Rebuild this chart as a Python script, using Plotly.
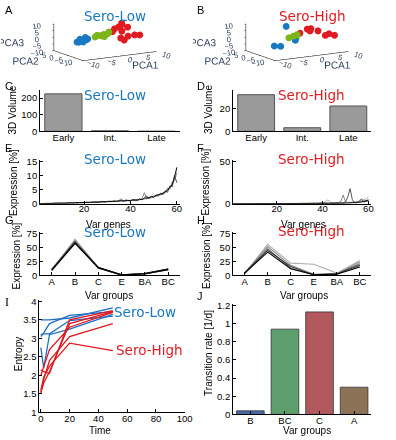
import plotly.graph_objects as go

W, H = 396, 440
FONT = "Liberation Sans, Arial, sans-serif"
TFONT = "DejaVu Sans, Verdana, sans-serif"
BLUE = "#1a78c2"
RED = "#e01b22"
GREEN = "#7cb518"

# ---------------- data ----------------
# Panel A / B : PCA scatter (PCA1, PCA2, PCA3)
A_blue_p1 = [-7.5, -7.0, -6.5, -6.0, -5.5, -5.25, -4.75, -6.2, -7.2, -5.0]
A_blue_p2 = [0.5, -0.5, 1.0, 0.0, -1.0, 0.5, 0.0, -0.5, 0.0, 1.0]
A_blue_p3 = [-0.8, 0.0, 0.8, 0.0, 0.8, 0.0, 0.8, -0.8, -0.8, 1.6]
A_green_p1 = [-2.75, -2.0, -1.5, -0.75, -0.25, 0.5, 1.0, 0.0]
A_green_p2 = [0.0, 0.5, -0.5, 0.0, 0.5, -0.5, 0.0, 0.5]
A_green_p3 = [1.6, 2.4, 2.4, 1.6, 2.4, 3.2, 4.0, 0.8]
A_red_p1 = [2.0, 2.75, 3.5, 4.5, 5.0, 5.75, 4.75, 4.25, 5.0, 6.25, 8.25, 9.25]
A_red_p2 = [0.0, 0.5, -0.5, 0.0, 1.0, -1.0, 0.5, 0.0, -0.5, 0.0, 0.5, -0.5]
A_red_p3 = [4.0, 5.6, 7.2, 9.5, 8.0, 6.4, 3.2, -1.6, -3.2, -0.8, -0.8, -0.8]

B_blue_p1 = [-3.0, -6.25, -4.5, -0.5]
B_blue_p2 = [0.0, 0.0, 0.0, 0.0]
B_blue_p3 = [9.6, -4.0, -4.8, -1.6]
B_green_p1 = [-2.25, -1.0, 0.0, -0.25]
B_green_p2 = [0.0, 0.0, 0.0, 0.0]
B_green_p3 = [0.8, 1.6, 2.4, 0.0]
B_red_p1 = [0.75, 2.75, 3.25, 3.75, 3.5, 4.5, 6.5, 7.5, 9.0]
B_red_p2 = [0.0, 0.0, 0.0, 0.0, 0.0, -3.0, -3.0, -3.0, -3.0]
B_red_p3 = [3.2, 5.6, 4.8, 5.6, 4.0, 4.8, 0.8, 1.6, 0.0]

# Panel C / D : 3D volume
stage_cats = ["Early", "Int.", "Late"]
C_vol = [225, 3, 0.5]
D_vol = [32.5, 3.2, 22.5]

# Panel E / F : expression per variable gene
genes = list(range(1, 61))
E1 = [0.0,0.1,0.0,0.1,0.1,0.2,0.1,0.2,0.3,0.2, 0.2,0.3,0.2,0.4,0.3,0.3,0.4,0.3,0.5,0.4,
      0.5,0.4,0.6,0.5,0.6,0.7,0.6,0.7,0.8,0.7, 0.8,0.9,0.8,1.0,0.9,1.1,1.0,1.2,1.1,1.3,
      1.2,1.4,1.3,1.5,1.7,1.6,1.9,2.1,2.3,2.5, 2.8,3.0,3.4,3.8,4.2,5.0,5.8,7.0,9.0,12.5]
E2 = [0.1,0.0,0.1,0.2,0.1,0.1,0.2,0.3,0.2,0.1, 0.3,0.2,0.3,0.2,0.4,0.5,0.3,0.4,0.4,0.6,
      0.4,0.5,0.5,0.7,0.5,0.6,0.8,0.6,0.7,0.9, 0.7,1.0,0.9,0.8,1.2,1.8,1.1,1.0,1.3,1.1,
      1.5,1.2,1.6,1.4,1.9,4.0,1.7,2.4,2.0,2.9, 2.6,3.3,3.1,4.0,3.8,5.6,5.2,7.8,8.2,11.0]
E3 = [0.0,0.0,0.1,0.0,0.2,0.1,0.1,0.1,0.2,0.3, 0.1,0.2,0.4,0.3,0.2,0.4,0.3,0.5,0.3,0.4,
      0.6,0.5,0.4,0.6,0.7,0.5,0.7,0.9,0.6,0.8, 1.0,0.7,1.1,0.9,1.0,1.3,0.9,1.4,1.2,1.0,
      1.6,1.3,1.1,1.8,1.4,2.2,2.8,1.8,2.7,2.2, 3.2,2.7,3.8,3.2,4.6,4.1,6.4,6.0,10.2,7.5]
E4 = [0.1,0.1,0.1,0.1,0.1,0.2,0.2,0.1,0.2,0.2, 0.2,0.3,0.3,0.3,0.3,0.4,0.4,0.4,0.4,0.5,
      0.5,0.5,0.5,0.6,0.6,0.6,0.7,0.7,0.7,0.8, 0.8,0.8,0.9,0.9,1.0,1.0,1.0,1.1,1.1,1.2,
      1.3,1.3,1.4,1.6,1.5,2.0,2.0,2.2,2.6,2.4, 3.0,3.2,3.5,3.7,4.4,4.8,6.0,6.8,9.5,13.0]
F1 = [0.2,0.1,0.2,0.3,0.2,0.1,0.2,0.3,0.2,0.2, 0.3,0.2,0.1,0.2,0.3,0.2,0.2,0.3,0.2,0.3,
      0.2,0.3,0.4,0.3,0.2,0.3,0.4,0.3,0.4,0.3, 0.4,0.3,0.5,0.4,0.3,0.5,0.4,0.6,0.5,0.7,
      2.5,4.5,3.8,1.0,0.8,0.9,1.2,1.0,1.4,1.2, 1.5,1.8,1.6,2.0,2.4,2.8,3.5,4.2,5.8,8.0]
F2 = [0.0,0.1,0.0,0.1,0.1,0.0,0.1,0.1,0.2,0.1, 0.1,0.2,0.1,0.1,0.2,0.1,0.2,0.2,0.1,0.2,
      0.2,0.1,0.2,0.3,0.2,1.0,0.3,0.2,0.3,0.2, 0.3,0.4,0.3,0.2,0.4,0.3,0.4,0.5,0.4,0.5,
      0.6,0.8,0.6,0.7,0.9,0.8,1.5,3.0,10.5,2.0, 1.2,1.0,1.5,1.3,1.8,2.0,2.5,3.0,3.6,4.5]
F3 = [0.1,0.0,0.1,0.0,0.1,0.1,0.0,0.1,0.0,0.1, 0.0,0.1,0.1,0.0,0.1,0.2,0.1,0.0,0.1,0.1,
      0.2,0.1,0.1,0.2,0.1,0.2,0.1,0.2,0.2,0.1, 0.2,0.2,0.3,0.2,0.2,0.3,0.3,0.2,0.3,0.3,
      0.4,0.3,0.4,0.5,0.4,0.5,0.6,0.5,0.8,2.0, 8.0,18.0,5.0,1.0,1.2,3.0,6.0,2.0,2.5,3.5]
F4 = [0.0,0.0,0.0,0.1,0.0,0.0,0.1,0.0,0.0,0.1, 0.1,0.0,0.1,0.1,0.1,0.0,0.1,0.1,0.1,0.1,
      0.1,0.1,0.2,0.1,0.1,0.2,0.2,0.1,0.2,0.2, 0.2,0.2,0.2,0.3,0.2,0.3,0.3,0.3,0.3,0.4,
      0.4,0.4,0.5,0.5,0.5,0.6,0.6,0.7,0.7,0.8, 0.9,1.0,1.2,1.3,1.5,1.8,2.2,2.8,3.5,4.5]
E_series = [E1, E2, E3, E4]
F_series = [F1, F2, F3, F4]

# Panel G / H : expression per variable group
groups = ["A", "B", "C", "E", "BA", "BC"]
G_series = [
    [9, 65, 14, 1.0, 3.0, 11],
    [10, 63, 14, 0.8, 2.5, 11],
    [11, 61, 13, 1.0, 3.0, 10],
    [10, 60, 14, 0.5, 3.5, 11],
    [9, 58, 14, 1.0, 2.5, 11],
]
H_series = [
    [3, 56, 22, 20, 4, 27],
    [4, 52, 18, 2, 3, 24],
    [3, 48, 13, 1, 2, 21],
    [5, 45, 16, 1, 3, 18],
    [4, 42, 12, 1, 2, 15],
]

# Panel I : entropy over time
times = [0, 2, 6, 20, 50]
I_low = [
    [3.50, 3.50, 3.50, 3.55, 3.82],
    [3.05, 3.15, 3.40, 3.62, 3.72],
    [2.75, 2.20, 3.10, 3.25, 3.65],
    [3.10, 3.12, 3.12, 3.48, 3.60],
]
I_high = [
    [1.50, 1.90, 2.40, 3.05, 3.40],
    [1.55, 1.80, 2.10, 3.40, 3.72],
    [2.00, 2.25, 2.70, 3.30, 3.70],
    [2.15, 2.10, 2.05, 3.50, 3.75],
    [1.60, 1.95, 2.25, 2.87, 2.67],
]

# Panel J : transition rate
J_groups = ["B", "BC", "C", "A"]
J_rate = [0.04, 0.94, 1.13, 0.30]
J_colors = ["#4a6aa8", "#5c9e6c", "#b0585c", "#8c7358"]

# ---------------- helpers ----------------
def xd(a, b):
    return [a / W, b / W]

def yd(top, bottom):
    return [1 - bottom / H, 1 - top / H]

def axstyle(**kw):
    d = dict(showline=True, linecolor="black", linewidth=1, ticks="inside",
             ticklen=3, tickcolor="black", showgrid=False, zeroline=False,
             tickfont=dict(family=FONT, size=9.5, color="black"), fixedrange=True)
    d.update(kw)
    return d

def xstyle(sd=-3, **kw):
    return axstyle(ticklabelstandoff=sd, **kw)

fig = go.Figure()

def add3d(scene, pts, cols):
    for (p1, p2, p3), c in zip(pts, cols):
        fig.add_trace(go.Scatter3d(x=p1, y=p2, z=p3, mode="markers", scene=scene,
                                   marker=dict(size=4, color=c, line=dict(width=0)),
                                   showlegend=False))

add3d("scene", [(A_blue_p1, A_blue_p2, A_blue_p3), (A_green_p1, A_green_p2, A_green_p3),
                (A_red_p1, A_red_p2, A_red_p3)], [BLUE, GREEN, RED])
add3d("scene2", [(B_blue_p1, B_blue_p2, B_blue_p3), (B_green_p1, B_green_p2, B_green_p3),
                 (B_red_p1, B_red_p2, B_red_p3)], [BLUE, GREEN, RED])

def ax3(title, tv):
    return dict(title=dict(text=title, font=dict(family=FONT, size=10)), range=[-10, 10],
                tickvals=tv, showgrid=False, showbackground=False, zeroline=False,
                showline=True, linecolor="black", ticks="outside", ticklen=2,
                tickfont=dict(family=FONT, size=9.5), showspikes=False)

def scene_cfg(dom_x, dom_y):
    return dict(domain=dict(x=dom_x, y=dom_y),
                xaxis=ax3("PCA1", [-10, -5, 0, 5, 10]),
                yaxis=ax3("PCA2", [-10, -5, 0, 5]),
                zaxis=ax3("PCA3", [-10, -5, 0, 5, 10]),
                aspectmode="manual", aspectratio=dict(x=2.19, y=1.45, z=0.7),
                camera=dict(projection=dict(type="orthographic"),
                            eye=dict(x=-1.19, y=-1.58, z=0.28), up=dict(x=0, y=0, z=1),
                            center=dict(x=-0.17, y=0.12, z=-0.14)),
                bgcolor="white")

fig.add_trace(go.Bar(x=stage_cats, y=C_vol, xaxis="x", yaxis="y", width=0.8,
                     marker=dict(color="#9a9a9a", line=dict(color="#555555", width=1)),
                     showlegend=False))
fig.add_trace(go.Bar(x=stage_cats, y=D_vol, xaxis="x2", yaxis="y2", width=0.8,
                     marker=dict(color="#9a9a9a", line=dict(color="#555555", width=1)),
                     showlegend=False))

greys4 = ["#b4b4b4", "#8a8a8a", "#555555", "#111111"]
for s, c in zip(E_series, greys4):
    fig.add_trace(go.Scatter(x=genes, y=s, xaxis="x3", yaxis="y3", mode="lines",
                             line=dict(color=c, width=1), showlegend=False))
for s, c in zip(F_series, greys4):
    fig.add_trace(go.Scatter(x=genes, y=s, xaxis="x4", yaxis="y4", mode="lines",
                             line=dict(color=c, width=1), showlegend=False))

greys5 = ["#b0b0b0", "#8c8c8c", "#666666", "#3a3a3a", "#000000"]
for s, c in zip(G_series, greys5):
    fig.add_trace(go.Scatter(x=groups, y=s, xaxis="x5", yaxis="y5", mode="lines",
                             line=dict(color=c, width=1.3), showlegend=False))
for s, c in zip(H_series, greys5):
    fig.add_trace(go.Scatter(x=groups, y=s, xaxis="x6", yaxis="y6", mode="lines",
                             line=dict(color=c, width=1.1), showlegend=False))

for s in I_low:
    fig.add_trace(go.Scatter(x=times, y=s, xaxis="x7", yaxis="y7", mode="lines",
                             line=dict(color="#1f6fc4", width=1.3), showlegend=False))
for s in I_high:
    fig.add_trace(go.Scatter(x=times, y=s, xaxis="x7", yaxis="y7", mode="lines",
                             line=dict(color="#e0161e", width=1.3), showlegend=False))

fig.add_trace(go.Bar(x=J_groups, y=J_rate, xaxis="x8", yaxis="y8", width=0.8,
                     marker=dict(color=J_colors, line=dict(color="#333333", width=0.8)),
                     showlegend=False))

L1, R1 = 40, 183
L2, R2 = 237.5, 379

layout = dict(
    width=W, height=H, margin=dict(l=0, r=0, t=0, b=0),
    paper_bgcolor="white", plot_bgcolor="white", showlegend=False, bargap=0.2,
    scene=scene_cfg(xd(0, 196), yd(0, 80)),
    scene2=scene_cfg(xd(196, 392), yd(0, 80)),
    xaxis=xstyle(domain=xd(L1, R1), anchor="y", ticks="", range=[-0.5, 2.5]),
    yaxis=axstyle(domain=yd(88, 130), anchor="x", range=[0, 247], tickvals=[0, 100, 200]),
    xaxis2=xstyle(domain=xd(L2, R2), anchor="y2", ticks="", range=[-0.5, 2.5]),
    yaxis2=axstyle(domain=yd(88, 130), anchor="x2", range=[0, 36.5], tickvals=[0, 20]),
    xaxis3=xstyle(sd=-4, domain=xd(L1, R1), anchor="y3", range=[1, 61.3], tickvals=[20, 40, 60]),
    yaxis3=axstyle(domain=yd(159, 204), anchor="x3", range=[0, 15.7], tickvals=[0, 5, 10, 15]),
    xaxis4=xstyle(sd=-4, domain=xd(L2, R2), anchor="y4", range=[1, 61.3], tickvals=[20, 40, 60]),
    yaxis4=axstyle(domain=yd(159, 204), anchor="x4", range=[0, 52], tickvals=[0, 50]),
    xaxis5=xstyle(domain=xd(L1, R1), anchor="y5", range=[-0.5, 5.5]),
    yaxis5=axstyle(domain=yd(233, 277), anchor="x5", range=[0, 78], tickvals=[0, 25, 50, 75]),
    xaxis6=xstyle(domain=xd(L2, R2), anchor="y6", range=[-0.5, 5.5]),
    yaxis6=axstyle(domain=yd(233, 277), anchor="x6", range=[0, 78], tickvals=[0, 25, 50, 75]),
    xaxis7=xstyle(domain=xd(39.3, 188), anchor="y7", range=[-1, 100],
                  tickvals=[0, 20, 40, 60, 80, 100]),
    yaxis7=axstyle(domain=yd(302, 417), anchor="x7", range=[1, 4.04],
                   tickvals=[1, 1.5, 2, 2.5, 3, 3.5, 4],
                   ticktext=["1", "1.5", "2", "2.5", "3", "3.5", "4"]),
    xaxis8=xstyle(domain=xd(L2, R2), anchor="y8", range=[-0.5, 3.5]),
    yaxis8=axstyle(domain=yd(306, 419), anchor="x8", range=[0, 1.22],
                   tickvals=[0, 0.2, 0.4, 0.6, 0.8, 1.0, 1.2],
                   ticktext=["0", "0.2", "0.4", "0.6", "0.8", "1", "1.2"]),
)
fig.update_layout(**layout)

def label(txt, x, y, color, size=13.5, fam=TFONT, anchor="center", angle=0):
    fig.add_annotation(text=txt, x=x / W, y=1 - y / H, xref="paper", yref="paper",
                       showarrow=False, xanchor=anchor, yanchor="middle", textangle=angle,
                       font=dict(family=fam, size=size, color=color))

# panel titles
label("Sero-Low", 117, 12, BLUE)
label("Sero-High", 319, 12, RED)
label("Sero-Low", 117, 93, BLUE)
label("Sero-High", 318, 93, RED)
label("Sero-Low", 117, 158, BLUE)
label("Sero-High", 318, 158, RED)
label("Sero-Low", 117, 233, BLUE)
label("Sero-High", 318, 232, RED)
label("Sero-Low", 114, 314, BLUE, anchor="left")
label("Sero-High", 116, 353, RED, anchor="left")

# axis titles
AX = 10
for txt, x, y in [("Var genes", 110, 225), ("Var genes", 310, 225),
                  ("Var groups", 111, 298), ("Var groups", 310, 298),
                  ("Time", 101, 435.5), ("Var groups", 313, 435.5)]:
    label(txt, x, y, "black", size=AX, fam=FONT)
for txt, x, y in [("3D Volume", 12, 108), ("3D Volume", 213, 108),
                  ("Expression [%]", 13, 182), ("Expression [%]", 209, 182),
                  ("Expression [%]", 16, 257), ("Expression [%]", 211, 257),
                  ("Entropy", 18, 358), ("Transition rate [1/d]", 213, 356)]:
    label(txt, x, y, "black", size=AX, fam=FONT, angle=-90)

# panel letters
for t, x, y in [("A", 2, 6), ("B", 198, 6), ("C", 2, 84), ("D", 198, 84),
                ("E", 2, 147), ("F", 198, 147), ("G", 2, 221), ("H", 198, 221),
                ("J", 198, 298)]:
    label(t, x, y, "black", size=11, fam=FONT, anchor="left")
label("I", 2, 304, "black", size=12, fam="Liberation Serif, serif", anchor="left")

fig.write_html("out.html", config={"displayModeBar": False},
               post_script="document.body.style.margin='0';")
